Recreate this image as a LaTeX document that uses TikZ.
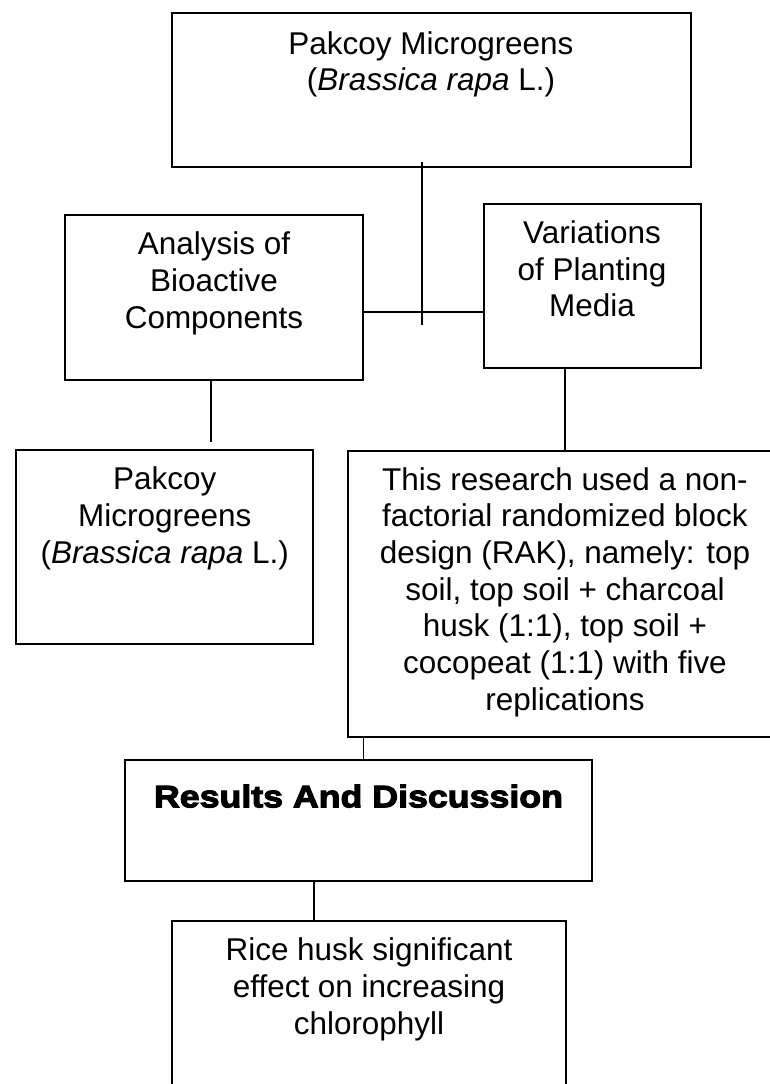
\documentclass[tikz,border=0pt]{standalone}
\usepackage{fontspec}
\setmainfont{Liberation Sans}
\newfontfamily\blackfont[FakeBold=3.5,FakeStretch=1.15]{Liberation Sans Bold}
\begin{document}
\begin{tikzpicture}[x=0.75pt,y=-0.75pt,
  box/.style={draw, line width=1.4pt, inner sep=0pt, outer sep=0pt, anchor=north west},
  txt/.style={inner sep=0pt, align=center, anchor=base, font=\fontsize{23.6}{27.5}\selectfont},
  conn/.style={line width=1.4pt}]
\useasboundingbox (0,0) rectangle (770,1084);
% boxes
\node[box, minimum width=389.25pt, minimum height=115.3pt] (b1) at (171.7,13.3) {};
\node[box, minimum width=223.3pt, minimum height=123.75pt] (b2) at (65.3,215) {};
\node[box, minimum width=162.5pt, minimum height=123pt] (b3) at (484,204) {};
\node[box, minimum width=223pt, minimum height=145.5pt] (b4) at (16,450) {};
\node[box, minimum width=325.7pt, minimum height=214.7pt] (b5) at (347.7,450.7) {};
\node[box, minimum width=349.8pt, minimum height=90.5pt] (b6) at (125.3,760) {};
\node[box, minimum width=295.5pt, minimum height=130.5pt] (b7) at (172,920.7) {};
% texts (anchor base = baseline of last line)
\node[txt] (t1) at (431,91) {Pakcoy Microgreens\\(\textit{Brassica rapa} L.)};
\node[txt] (t2) at (214,328) {Analysis of\\Bioactive\\Components};
\node[txt] (t3) at (592,316.7) {Variations\\of Planting\\Media};
\node[txt] (t4) at (164.7,563) {Pakcoy\\Microgreens\\(\textit{Brassica rapa} L.)};
\node[txt] (t5) at (565,710) {This research used a non-\\factorial randomized block\\design (RAK), namely: top\\soil, top soil + charcoal\\husk (1:1), top soil +\\cocopeat (1:1) with five\\replications};
\node[txt, font=\blackfont\fontsize{23.3}{27.5}\selectfont] (t6) at (358.5,807.3) {Results And Discussion};
\node[txt] (t7) at (369,1034) {Rice husk significant\\effect on increasing\\chlorophyll};
% junction coordinates
\coordinate (j1) at (422,161.7);
\coordinate (j2) at (422,325);
\coordinate (hy) at (0,311.7);
\coordinate (x56) at (363.5,0);
\coordinate (x67) at (314,0);
% connectors
\draw[conn] (j1) -- (j2);
\draw[conn] (b2.east |- hy) -- (b3.west |- hy);
\draw[conn, shorten >=6pt] ([xshift=-2.1pt]b2.south) -- ([xshift=-2.1pt]b2.south |- b4.north);
\draw[conn] (b5.north |- b3.south) -- (b5.north);
\draw[conn] (x56 |- b5.south) -- (x56 |- b6.north);
\draw[conn] (x67 |- b6.south) -- (x67 |- b7.north);
\end{tikzpicture}
\end{document}
